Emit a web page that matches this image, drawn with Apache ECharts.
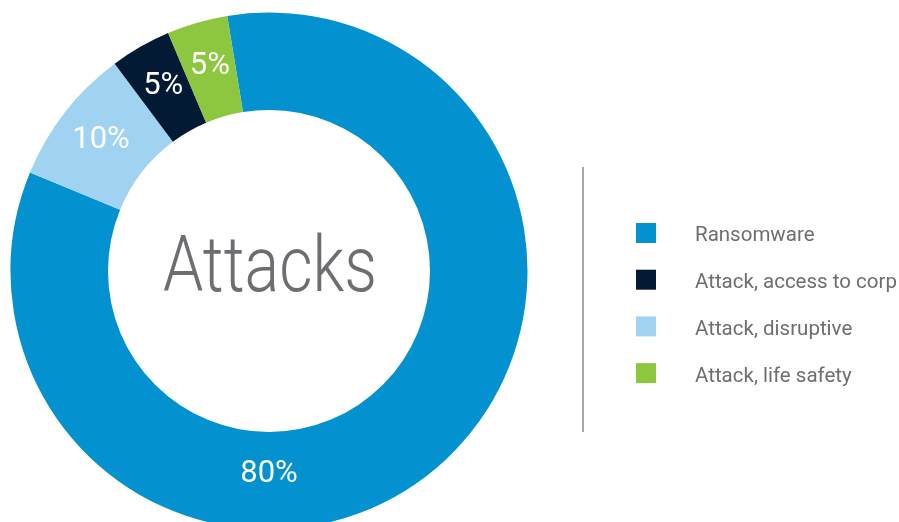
<!DOCTYPE html>
<html>
<head>
<meta charset="utf-8">
<script src="https://cdn.jsdelivr.net/npm/echarts@6/dist/echarts.min.js"></script>
<style>
html,body{margin:0;padding:0;background:#fff;}
#chart{width:899px;height:522px;}
</style>
</head>
<body>
<div id="chart"></div>
<script>
// Slice order (clockwise from the top)
const categories = ['Ransomware', 'Attack, disruptive', 'Attack, access to corp', 'Attack, life safety'];
// Shares as drawn (angular size of each slice)
const values = [83.8, 8.6, 3.8, 3.8];
// Percent labels printed on the slices
const labelTexts = ['80%', '10%', '5%', '5%'];
// Legend order
const legendOrder = ['Ransomware', 'Attack, access to corp', 'Attack, disruptive', 'Attack, life safety'];
const colors = {
  'Ransomware': '#0392cf',
  'Attack, disruptive': '#9fd3f1',
  'Attack, access to corp': '#021a33',
  'Attack, life safety': '#8dc63f'
};
const centerText = 'Attacks';

const CX = 269, CY = 271, R_IN = 161, R_OUT = 258.5;

const chart = echarts.init(document.getElementById('chart'), null, {renderer: 'canvas'});
chart.setOption({
  animation: false,
  backgroundColor: '#ffffff',
  legend: [
    { // colour squares
      orient: 'vertical',
      left: 636,
      top: 223,
      padding: 0,
      itemWidth: 20,
      itemHeight: 20,
      itemGap: 26.7,
      icon: 'rect',
      data: legendOrder,
      selectedMode: false,
      formatter: () => '',
      textStyle: {fontSize: 1, lineHeight: 20}
    },
    { // legend texts
      orient: 'vertical',
      left: 690,
      top: 225.5,
      padding: 0,
      itemWidth: 0,
      itemHeight: 20,
      itemGap: 26.0,
      icon: 'none',
      data: legendOrder,
      selectedMode: false,
      textStyle: {
        color: '#6d6e71',
        fontFamily: 'Roboto',
        fontSize: 20.5,
        lineHeight: 20
      }
    }
  ],
  graphic: [
    {
      type: 'line',
      shape: {x1: 583, y1: 167, x2: 583, y2: 432},
      style: {stroke: '#8a8a8a', lineWidth: 1.5}
    },
    {
      type: 'text',
      x: CX + 1,
      y: CY + 1,
      scaleX: 0.84,
      style: {
        text: centerText,
        fill: '#6d6e71',
        font: '300 77px Roboto',
        textAlign: 'center',
        textVerticalAlign: 'middle'
      }
    }
  ],
  series: [{
    type: 'pie',
    center: [CX, CY],
    radius: [R_IN, R_OUT],
    startAngle: 99.3,
    clockwise: true,
    avoidLabelOverlap: false,
    minAngle: 0,
    label: {
      show: true,
      position: 'inside',
      color: '#ffffff',
      fontFamily: 'Roboto',
      fontSize: 31,
      formatter: p => labelTexts[p.dataIndex]
    },
    labelLine: {show: false},
    emphasis: {disabled: true},
    itemStyle: {borderWidth: 0},
    labelLayout: function (p) {
      if (p.dataIndex === 0) {
        return {x: CX, y: CY + 203, align: 'center', verticalAlign: 'middle'};
      }
      return {};
    },
    data: categories.map((c, i) => ({
      name: c,
      value: values[i],
      itemStyle: {color: colors[c]}
    }))
  }]
});
</script>
</body>
</html>
